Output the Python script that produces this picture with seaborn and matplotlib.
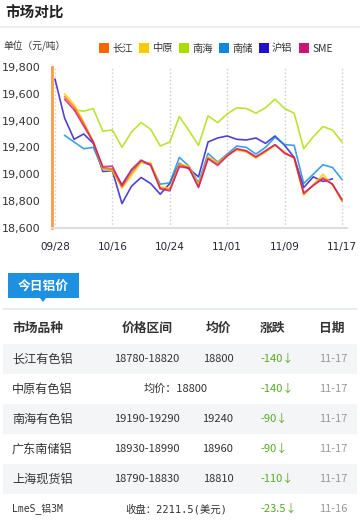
import numpy as np
import pandas as pd
import seaborn as sns
import matplotlib.pyplot as plt
from matplotlib.patches import Rectangle, Polygon

nan = np.nan

# trading days shown on the category axis
dates = ["09/28", "09/29", "10/10", "10/11", "10/12", "10/13", "10/16",
         "10/17", "10/18", "10/19", "10/20", "10/23", "10/24",
         "10/25", "10/26", "10/27", "10/30", "10/31", "11/01",
         "11/02", "11/03", "11/06", "11/07", "11/08", "11/09",
         "11/10", "11/13", "11/14", "11/15", "11/16", "11/17"]

changjiang = [nan, 19580, 19500, 19380, 19240, 19050, 19040, 18905, 19010, 19100, 19075,
              18895, 18885, 19065, 19050, 18905, 19120, 19075, 19140, 19185, 19170,
              19125, 19170, 19220, 19160, 19120, 18850, 18920, 18975, 18925, 18800]
zhongyuan = [nan, 19600, 19520, 19390, 19240, 19035, 19025, 18895, 18990, 19085, 19085,
             18905, 18895, 19075, 19060, 18920, 19130, 19085, 19140, 19180, 19165,
             19120, 19165, 19215, 19165, 19120, 18845, 18920, 19000, 18920, 18800]
nanhai = [nan, nan, 19480, 19470, 19490, 19320, 19330, 19200, 19315, 19385, 19335,
          19210, 19240, 19430, 19325, 19215, 19435, 19385, 19450, 19495, 19490,
          19455, 19495, 19560, 19490, 19455, 19190, 19280, 19355, 19330, 19240]
nanchu = [nan, 19290, 19240, 19190, 19200, 19040, 19030, 18925, 19030, 19090, 19070,
          18925, 18935, 19125, 19060, 18935, 19155, 19090, 19150, 19210, 19200,
          19150, 19200, 19275, 19220, 19215, 18930, 19000, 19070, 19050, 18960]
hulv = [19710, 19420, 19260, 19300, 19230, 19020, 19025, 18780, 18910, 18975, 18930,
        18850, 18930, 19080, 19040, 18980, 19240, 19270, 19285, 19260, 19255,
        19270, 19230, 19285, 19215, 19125, 18900, 18980, 18945, 18965, nan]
sme = [nan, 19560, 19480, 19360, 19240, 19055, 19060, 18915, 19035, 19105, 19065,
       18890, 18875, 19055, 19045, 18900, 19115, 19065, 19135, 19190, 19175,
       19130, 19175, 19220, 19155, 19125, 18860, 18915, 18965, 18925, 18810]

legend_names = ["长江", "中原", "南海", "南储", "沪铝", "SME"]
legend_colors = ["#FF6600", "#FFCC00", "#AADD00", "#1188DD", "#2211CC", "#CC1177"]
draw_order = ["南海", "沪铝", "南储", "中原", "长江", "SME"]

# today's price table
markets = ["长江有色铝", "中原有色铝", "南海有色铝", "广东南储铝", "上海现货铝", "LmeS_铝3M"]
ranges = ["18780-18820", "均价：18800", "19190-19290", "18930-18990", "18790-18830", "收盘：2211.5(美元)"]
avgs = ["18800", "", "19240", "18960", "18810", ""]
changes = ["-140", "-140", "-90", "-90", "-110", "-23.5"]
days = ["11-17", "11-17", "11-17", "11-17", "11-17", "11-16"]
headers = ["市场品种", "价格区间", "均价", "涨跌", "日期"]

W, H = 360, 522
CJK = ["Noto Sans CJK SC", "DejaVu Sans"]
MONO = ["DejaVu Sans Mono", "Noto Sans CJK SC"]

sns.set_style("white")
plt.rcParams["font.family"] = ["DejaVu Sans", "Noto Sans CJK SC"]


def fx(x):
    return x / W


def fy(y):
    return 1 - y / H


def box(x, y, w, h, color):
    fig.add_artist(Rectangle((fx(x), fy(y + h)), w / W, h / H, color=color,
                             transform=fig.transFigure, lw=0))


fig = plt.figure(figsize=(W / 100, H / 100), dpi=100)

# ---- chart ----
df = pd.DataFrame({"idx": range(len(dates)), "长江": changjiang, "中原": zhongyuan,
                   "南海": nanhai, "南储": nanchu, "沪铝": hulv, "SME": sme})
df = df.melt(id_vars="idx", var_name="market", value_name="price").dropna()

ax = fig.add_axes([fx(52), fy(227.7), 295 / W, 160.7 / H])
sns.lineplot(data=df, x="idx", y="price", hue="market", hue_order=draw_order,
             palette=dict(zip(legend_names, legend_colors)), linewidth=1.2,
             alpha=0.8, legend=False, ax=ax)

ax.set_xlim(-0.31, 30.52)
ax.set_ylim(18600, 19800)
yt = list(range(18600, 19801, 200))
ax.set_yticks(yt)
ax.set_yticklabels([f"{v:,}" for v in yt])
xt = list(range(0, 31, 6))
ax.set_xticks(xt)
ax.set_xticklabels([dates[i] for i in xt])
ax.set_xlabel("")
ax.set_ylabel("")
sns.despine(ax=ax)
ax.spines["left"].set_color("#FF9944")
ax.spines["left"].set_linewidth(2)
ax.spines["bottom"].set_color("#DDDDDD")
ax.spines["bottom"].set_linewidth(1.5)
ax.xaxis.grid(True, ls=":", color="#CCCCCC", lw=1)
ax.yaxis.grid(False)
ax.tick_params(axis="y", colors="#FF9944", length=3, width=1.5, pad=5,
               labelsize=8, labelcolor="#333333")
ax.tick_params(axis="x", colors="#DDDDDD", length=3, width=1, pad=7,
               labelsize=7.5, labelcolor="#222233")

# ---- header ----
fig.text(fx(5), fy(13), "市场对比", fontsize=10.5, fontweight="bold",
         va="center", color="#222222", family=CJK)
box(0, 26, W, 2, "#EEEEEE")
fig.text(fx(3), fy(46), "单位（元/吨）", fontsize=7, va="center",
         color="#333333", family=CJK)
for i, (name, col) in enumerate(zip(legend_names, legend_colors)):
    x0 = 99 + 40 * i
    box(x0, 43, 10, 10, col)
    fig.text(fx(x0 + 13), fy(48.5), name, fontsize=7.4, va="center",
             color="#333333", family=CJK)

# ---- table ----
box(8, 273, 71, 25, "#1E90E2")
fig.add_artist(Polygon([(fx(40), fy(298)), (fx(46), fy(298)), (fx(43), fy(302))],
                       closed=True, color="#1E90E2", transform=fig.transFigure, lw=0))
fig.text(fx(43.5), fy(286), "今日铝价", fontsize=9.2, fontweight="bold",
         ha="center", va="center", color="white", family=CJK)
box(3, 308, 354, 2, "#E8ECF0")

hx = [(12, "left"), (147, "center"), (218, "center"), (273, "center"), (332, "center")]
for (x, ha), t in zip(hx, headers):
    fig.text(fx(x), fy(328), t, fontsize=9.2, fontweight="bold", ha=ha,
             va="center", color="#333333", family=CJK)

for r in range(len(markets)):
    yc = 359 + 30 * r
    if r % 2 == 0:
        box(3, yc - 15.5, 354, 30.5, "#F4F5F7")
    last = r == len(markets) - 1
    fig.text(fx(12), fy(yc), markets[r], fontsize=7 if last else 8.7, va="center",
             color="#333333", family=MONO if last else CJK)
    if avgs[r]:
        fig.text(fx(147), fy(yc), ranges[r], fontsize=8, ha="center", va="center",
                 color="#333333", family=CJK)
        fig.text(fx(218), fy(yc), avgs[r], fontsize=8, ha="center", va="center",
                 color="#333333", family=CJK)
    else:
        fig.text(fx(176), fy(yc), ranges[r], fontsize=7.5 if last else 8,
                 ha="center", va="center", color="#333333",
                 family=MONO if last else CJK)
    fig.text(fx(260), fy(yc), changes[r] + "↓", fontsize=8, va="center",
             color="#55AA22", family=CJK)
    fig.text(fx(319), fy(yc), days[r], fontsize=8, va="center",
             color="#999999", family=CJK)

fig.savefig("out.png", dpi=100)
